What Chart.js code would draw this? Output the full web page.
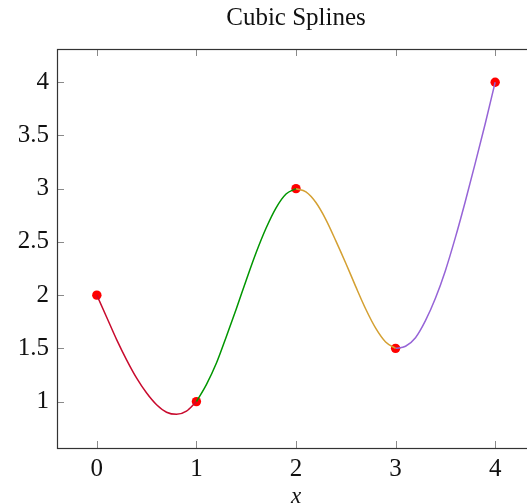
<!DOCTYPE html>
<html>
<head>
<meta charset="utf-8">
<script src="https://cdn.jsdelivr.net/npm/chart.js@4/dist/chart.umd.min.js"></script>
<style>
    html, body { margin: 0; padding: 0; overflow: hidden; background: #fff; }
</style>
</head>
<body>
<canvas id="splineChart" width="592" height="504"></canvas>
<script>
// knots of the spline
const knotX = [0, 1, 2, 3, 4];
const knotY = [2, 1, 3, 1.5, 4];

// curve, every 0.1 along each piece
const sampleT = [0, 0.1, 0.2, 0.3, 0.4, 0.5, 0.6, 0.7, 0.8, 0.9, 1];
const redY = [2, 1.79, 1.58, 1.39, 1.22, 1.08, 0.97, 0.90, 0.88, 0.91, 1];
const greenY = [1, 1.16, 1.36, 1.61, 1.87, 2.14, 2.40, 2.63, 2.82, 2.95, 3];
const goldY = [3, 2.97, 2.87, 2.71, 2.51, 2.30, 2.08, 1.87, 1.69, 1.56, 1.5];
const purpleY = [1.5, 1.52, 1.60, 1.76, 1.97, 2.23, 2.54, 2.88, 3.24, 3.61, 4];

const xTicks = [0, 1, 2, 3, 4];
const yTicks = [1, 1.5, 2, 2.5, 3, 3.5, 4];

function piece(start, ys) {
    let pts = [];
    for (let i = 0; i < ys.length; i++) {
        pts.push({ x: start + sampleT[i], y: ys[i] });
    }
    return pts;
}

function curve(data, color) {
    return {
        data: data,
        borderColor: color,
        borderWidth: 1.5,
        pointRadius: 0,
        cubicInterpolationMode: 'monotone',
        fill: false
    };
}

let knots = [];
for (let i = 0; i < knotX.length; i++) {
    knots.push({ x: knotX[i], y: knotY[i] });
}

// frame and inward tick marks like pgfplots
const framePlugin = {
    id: 'frame',
    afterDraw(chart) {
        const ctx = chart.ctx;
        const a = chart.chartArea;
        const xs = chart.scales.x;
        const ys = chart.scales.y;
        const len = 7;
        ctx.save();
        ctx.strokeStyle = '#8a8a8a';
        ctx.lineWidth = 1;
        ctx.beginPath();
        xTicks.forEach(function (v) {
            let px = Math.round(xs.getPixelForValue(v)) + 0.5;
            ctx.moveTo(px, a.bottom);
            ctx.lineTo(px, a.bottom - len);
            ctx.moveTo(px, a.top);
            ctx.lineTo(px, a.top + len);
        });
        yTicks.forEach(function (v) {
            let py = Math.round(ys.getPixelForValue(v)) + 0.5;
            ctx.moveTo(a.left, py);
            ctx.lineTo(a.left + len, py);
            ctx.moveTo(a.right, py);
            ctx.lineTo(a.right - len, py);
        });
        ctx.stroke();
        ctx.strokeStyle = '#333';
        ctx.lineWidth = 1.2;
        ctx.strokeRect(Math.round(a.left) + 0.5, Math.round(a.top) + 0.5,
            Math.round(a.right - a.left), Math.round(a.bottom - a.top));
        ctx.restore();
    }
};

const serif = "'Liberation Serif', 'DejaVu Serif', serif";

let ctx = document.getElementById('splineChart').getContext('2d');
const splineChart = new Chart(ctx, {
    type: 'line',
    data: {
        datasets: [
            curve(piece(knotX[0], redY), 'rgb(200, 10, 45)'),
            curve(piece(knotX[1], greenY), 'rgb(0, 150, 0)'),
            curve(piece(knotX[2], goldY), 'rgb(212, 160, 50)'),
            curve(piece(knotX[3], purpleY), 'rgb(150, 100, 215)'),
            {
                data: knots,
                showLine: false,
                pointRadius: 4.7,
                pointBackgroundColor: '#ff0000',
                pointBorderWidth: 0,
                borderColor: '#ff0000'
            }
        ]
    },
    options: {
        responsive: false,
        animation: false,
        events: [],
        layout: { padding: 0 },
        plugins: {
            legend: { display: false },
            tooltip: { enabled: false },
            title: {
                display: true,
                text: 'Cubic Splines',
                color: '#111',
                font: { family: serif, size: 25, weight: 'normal' },
                padding: { top: 3, bottom: 16 }
            }
        },
        scales: {
            x: {
                type: 'linear',
                min: -0.4,
                max: 4.4,
                afterBuildTicks: function (scale) {
                    scale.ticks = xTicks.map(v => ({ value: v }));
                },
                afterFit: function (scale) { scale.height = 56; },
                grid: { display: false, drawTicks: false },
                border: { display: false },
                ticks: {
                    padding: 6,
                    color: '#111',
                    font: { family: serif, size: 25 },
                    callback: v => String(v)
                },
                title: {
                    display: true,
                    text: 'x',
                    color: '#111',
                    padding: 0,
                    font: { family: serif, size: 23, style: 'italic', lineHeight: 0.6 }
                }
            },
            y: {
                type: 'linear',
                min: 0.564,
                max: 4.312,
                afterBuildTicks: function (scale) {
                    scale.ticks = yTicks.map(v => ({ value: v }));
                },
                afterFit: function (scale) { scale.width = 57; },
                grid: { display: false, drawTicks: false },
                border: { display: false },
                ticks: {
                    padding: 8,
                    color: '#111',
                    font: { family: serif, size: 25 },
                    callback: v => String(v)
                }
            },
            // empty right side so the plot box ends where the reference's does
            yRight: {
                type: 'linear',
                position: 'right',
                afterFit: function (scale) { scale.width = 57; },
                grid: { display: false, drawTicks: false },
                border: { display: false },
                ticks: { display: false }
            }
        }
    },
    plugins: [framePlugin]
});
</script>
</body>
</html>
